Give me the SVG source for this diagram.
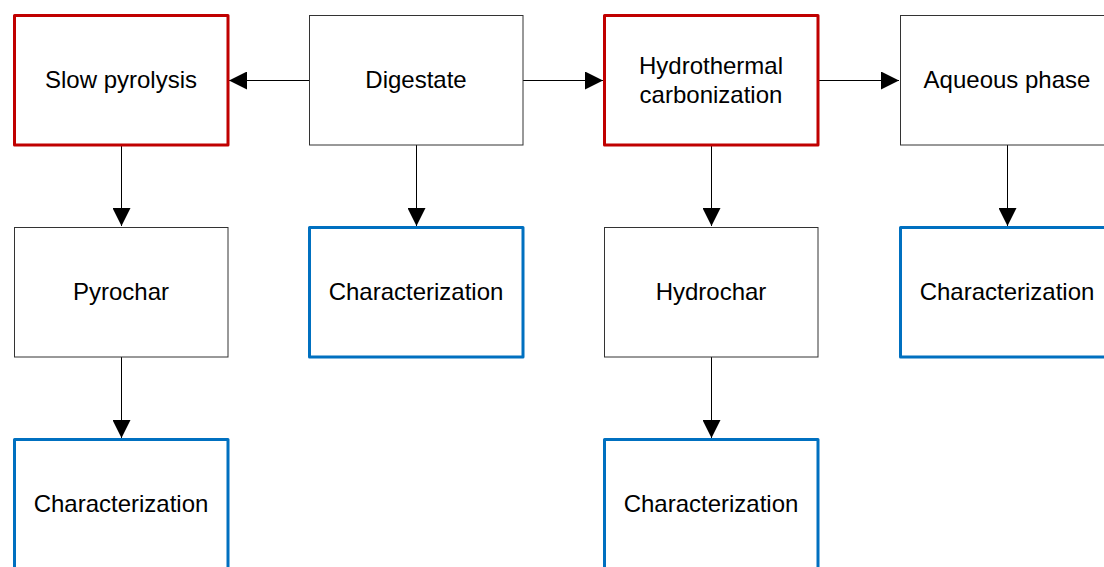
<svg xmlns="http://www.w3.org/2000/svg" width="1104" height="567" viewBox="0 0 1104 567">
<defs>
<style>
.plain{fill:#fff;stroke:#333;stroke-width:1}
.red{fill:#fff;stroke:#C00000;stroke-width:3;stroke-linejoin:round}
.blue{fill:#fff;stroke:#0070C0;stroke-width:3;stroke-linejoin:round}
text{font-family:"Liberation Sans",Arial,sans-serif;font-size:24px;fill:#000;text-anchor:middle}
.edge{stroke:#000;stroke-width:1;fill:none;marker-end:url(#ah)}
</style>
<marker id="ah" markerUnits="userSpaceOnUse" markerWidth="18" markerHeight="18" viewBox="0 0 16 16" refX="16" refY="8" orient="auto">
<path d="M0,0 L16,8 L0,16 Z" fill="#000"/>
</marker>
</defs>
<rect width="1104" height="567" fill="#fff"/>
<g id="connectors">
<line class="edge" x1="309" y1="80.5" x2="229" y2="80.5"/>
<line class="edge" x1="523" y1="80.5" x2="603" y2="80.5"/>
<line class="edge" x1="819" y1="80.5" x2="899" y2="80.5"/>
<line class="edge" x1="121.5" y1="146" x2="121.5" y2="226"/>
<line class="edge" x1="416.5" y1="145" x2="416.5" y2="226"/>
<line class="edge" x1="711.5" y1="146" x2="711.5" y2="226"/>
<line class="edge" x1="1007.5" y1="145" x2="1007.5" y2="226"/>
<line class="edge" x1="121.5" y1="357" x2="121.5" y2="438"/>
<line class="edge" x1="711.5" y1="357" x2="711.5" y2="438"/>
</g>
<g id="slow-pyrolysis"><rect class="red" x="14.5" y="15.5" width="213.5" height="129.5"/><text x="121" y="88">Slow pyrolysis</text></g>
<g id="digestate"><rect class="plain" x="309.5" y="15.5" width="213.5" height="129.5"/><text x="416" y="88">Digestate</text></g>
<g id="htc"><rect class="red" x="604.5" y="15.5" width="213.5" height="129.5"/><text x="711" y="73.5">Hydrothermal</text><text x="711" y="102.5">carbonization</text></g>
<g id="aqueous-phase"><rect class="plain" x="900.5" y="15.5" width="213.5" height="129.5"/><text x="1007" y="88">Aqueous phase</text></g>
<g id="pyrochar"><rect class="plain" x="14.5" y="227.5" width="213.5" height="129.5"/><text x="121" y="300">Pyrochar</text></g>
<g id="char-digestate"><rect class="blue" x="309.5" y="227.5" width="213.5" height="129.5"/><text x="416" y="300">Characterization</text></g>
<g id="hydrochar"><rect class="plain" x="604.5" y="227.5" width="213.5" height="129.5"/><text x="711" y="300">Hydrochar</text></g>
<g id="char-aqueous"><rect class="blue" x="900.5" y="227.5" width="213.5" height="129.5"/><text x="1007" y="300">Characterization</text></g>
<g id="char-pyrochar"><rect class="blue" x="14.5" y="439.5" width="213.5" height="129.5"/><text x="121" y="512">Characterization</text></g>
<g id="char-hydrochar"><rect class="blue" x="604.5" y="439.5" width="213.5" height="129.5"/><text x="711" y="512">Characterization</text></g>
</svg>
